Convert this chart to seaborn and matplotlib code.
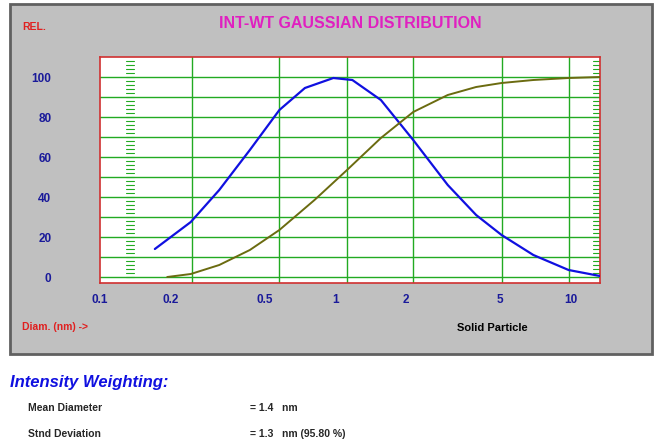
import numpy as np
import pandas as pd
import matplotlib
matplotlib.use("Agg")
import matplotlib.pyplot as plt
from matplotlib.patches import Rectangle
import seaborn as sns

# --- data ---
blue_d = [0.171, 0.243, 0.321, 0.433, 0.578, 0.742, 0.98, 1.18, 1.56, 2.14, 3.0, 3.96, 5.08, 6.93, 9.78, 13.3]
blue_v = [14, 27.5, 43.5, 63.5, 83.5, 94.5, 99.5, 98.5, 88.5, 68.5, 46, 31, 21, 11, 3.5, 0.5]
cum_d = [0.193, 0.243, 0.321, 0.433, 0.578, 0.815, 1.12, 1.56, 2.14, 3.0, 3.96, 5.08, 6.93, 9.78, 13.3]
cum_v = [0, 1.5, 6, 13.5, 23.5, 38.5, 53.5, 69.5, 82.5, 91, 95, 97, 98.5, 99.5, 100]
x_ticks = [0.1, 0.2, 0.5, 1, 2, 5, 10]
x_grid = [0.245, 0.578, 1.12, 2.14, 5.1, 9.8]
y_ticks = [0, 20, 40, 60, 80, 100]

sns.set_style("white")
plt.rcParams['font.family'] = ['Liberation Sans', 'DejaVu Sans']

W, H = 659, 448
fig = plt.figure(figsize=(W / 100, H / 100), dpi=100)
fig.patch.set_facecolor("white")

# gray panel behind the plot
fig.patches.append(Rectangle((10 / W, 1 - 354 / H), 642 / W, 350 / H, transform=fig.transFigure,
                             facecolor="#c0c0c0", edgecolor="#606060", linewidth=2, zorder=-5))

ax = fig.add_axes([100 / W, 1 - 283 / H, 500 / W, 226 / H])
ax.set_zorder(2)
ax.set_facecolor("white")
ax.set_xscale("log")
ax.set_xlim(0.129, 13.3)
ax.set_ylim(-3, 110)

for g in x_grid:
    ax.axvline(g, color="#22aa22", lw=1, zorder=1)
for yv in range(0, 101, 10):
    ax.axhline(yv, color="#22aa22", lw=1, zorder=1)
# green minor ticks on left/right edges
for yv in np.arange(0, 110, 2):
    ax.plot([0.129, 0.139], [yv, yv], color="#22aa22", lw=0.8, zorder=1)
    ax.plot([12.4, 13.3], [yv, yv], color="#22aa22", lw=0.8, zorder=1)

df_b = pd.DataFrame({"d": blue_d, "v": blue_v})
df_c = pd.DataFrame({"d": cum_d, "v": cum_v})
sns.lineplot(data=df_b, x="d", y="v", ax=ax, color="#1010e0", lw=1.6, zorder=3)
sns.lineplot(data=df_c, x="d", y="v", ax=ax, color="#6b6b10", lw=1.4, zorder=3)

for s in ax.spines.values():
    s.set_color("#d03030")
    s.set_linewidth(1.2)

ax.set_xticks(x_ticks)
ax.set_xticklabels([str(t) for t in x_ticks], color="#1a1a9a", fontsize=8.5, fontweight="bold")
ax.set_yticks(y_ticks)
ax.set_yticklabels([str(t) for t in y_ticks], color="#1a1a9a", fontsize=8.5, fontweight="bold")
ax.tick_params(axis="x", length=0, pad=8)
ax.tick_params(axis="y", length=0, pad=35)
ax.xaxis.set_minor_locator(matplotlib.ticker.NullLocator())
ax.set_xlabel("")
ax.set_ylabel("")

fig.text(350 / W, 1 - 24 / H, "INT-WT GAUSSIAN DISTRIBUTION", color="#e020c0", fontsize=11.5,
         fontweight="bold", ha="center", va="center")
fig.text(22 / W, 1 - 27 / H, "REL.", color="#e02020", fontsize=7.5, fontweight="bold", va="center")
fig.text(22 / W, 1 - 327 / H, "Diam. (nm) ->", color="#e02020", fontsize=7.5, fontweight="bold", va="center")
fig.text(492 / W, 1 - 328 / H, "Solid Particle", color="black", fontsize=8, fontweight="bold",
         ha="center", va="center")

fig.text(10 / W, 1 - 382 / H, "Intensity Weighting:", color="#1010e0", fontsize=12,
         fontweight="bold", fontstyle="italic", va="center")
fig.text(28 / W, 1 - 408 / H, "Mean Diameter", fontsize=7.5, fontweight="bold", va="center")
fig.text(250 / W, 1 - 408 / H, "= 1.4   nm", fontsize=7.5, fontweight="bold", va="center")
fig.text(28 / W, 1 - 434 / H, "Stnd Deviation", fontsize=7.5, fontweight="bold", va="center")
fig.text(250 / W, 1 - 434 / H, "= 1.3   nm (95.80 %)", fontsize=7.5, fontweight="bold", va="center")

fig.savefig("out.png", dpi=100)
